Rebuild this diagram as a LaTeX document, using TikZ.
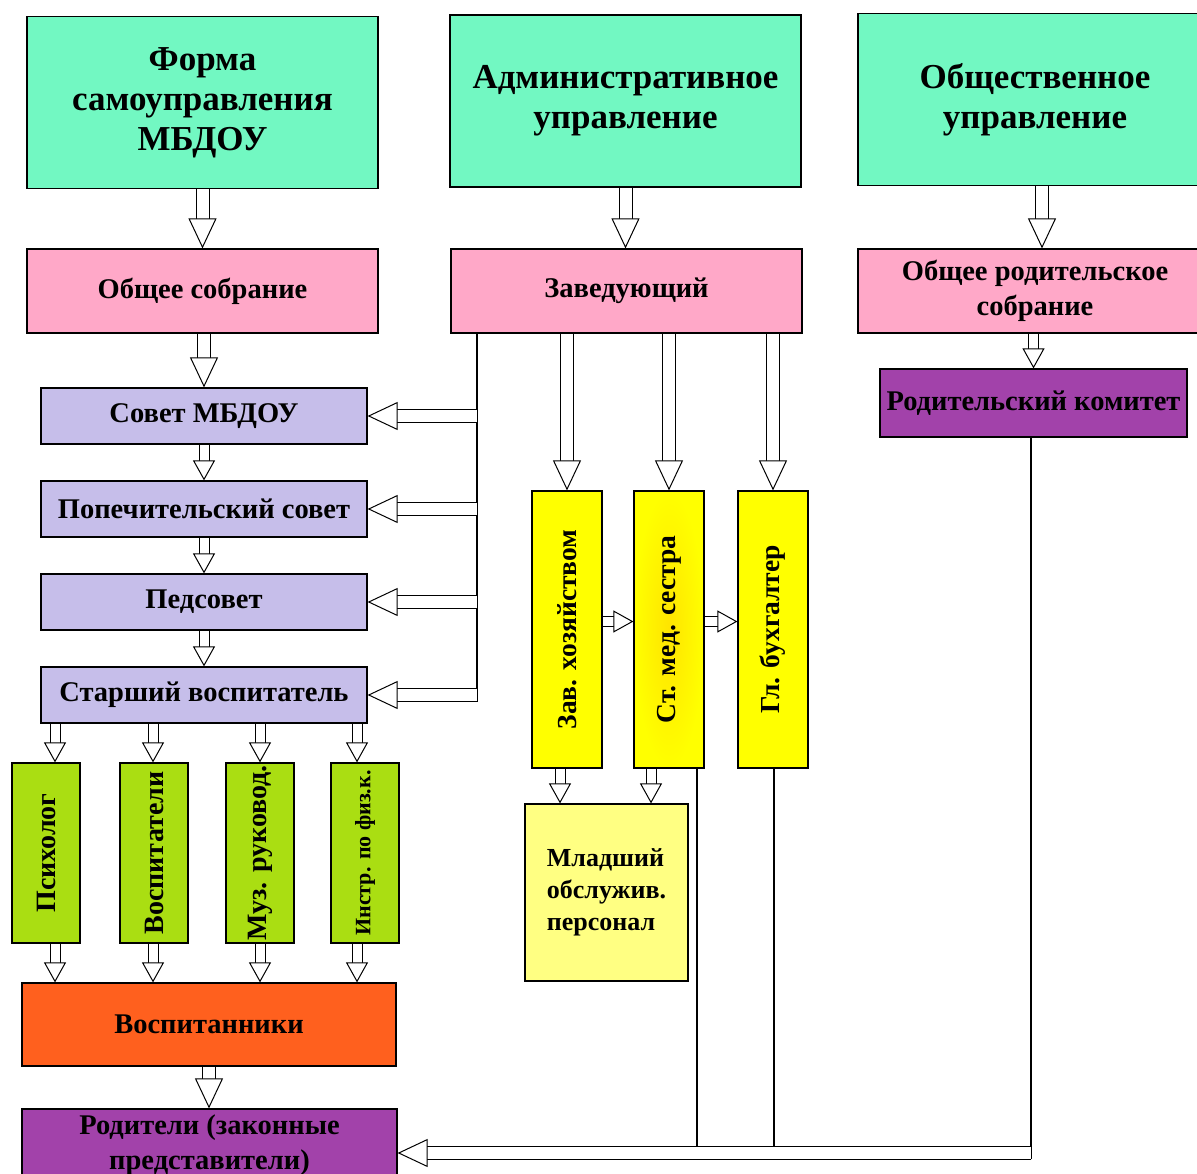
\documentclass[tikz,border=0pt]{standalone}
\usepackage{fontspec}
\setmainfont{Liberation Serif}
\usepackage{graphicx}
\usepackage{xcolor}
\usepackage{tikz}
\usetikzlibrary{arrows.meta}
\definecolor{mint}{RGB}{114,248,194}
\definecolor{rose}{RGB}{255,168,200}
\definecolor{lilac}{RGB}{198,190,234}
\definecolor{plum}{RGB}{162,66,170}
\definecolor{lemon}{RGB}{255,255,0}
\definecolor{amber}{RGB}{255,228,0}
\definecolor{cream}{RGB}{255,255,130}
\definecolor{lime}{RGB}{170,222,18}
\definecolor{tangerine}{RGB}{255,96,30}
\tikzstyle{box}=[draw=black, line width=1.2pt, shape=rectangle, inner sep=0pt, align=center, font=\bfseries\fontsize{28.5}{35}\selectfont]
\tikzstyle{head box}=[box, fill=mint, minimum width=351, minimum height=172, font=\bfseries\fontsize{35}{40}\selectfont]
\tikzstyle{pink box}=[box, fill=rose, minimum width=351, minimum height=84]
\tikzstyle{lilac box}=[box, fill=lilac, minimum width=326, minimum height=56]
\tikzstyle{plum box}=[box, fill=plum]
\tikzstyle{yellow box}=[box, fill=lemon, minimum width=70, minimum height=277, font=\bfseries\fontsize{27.5}{30}\selectfont]
\tikzstyle{green box}=[box, fill=lime, minimum width=68, minimum height=180, font=\bfseries\fontsize{28}{30}\selectfont]
\tikzstyle{big arrow}=[draw=black, line width=1pt, double=white, double distance=12pt, -{Triangle[length=30pt, width=28pt, fill=white, line width=1pt]}]
\tikzstyle{small arrow}=[draw=black, line width=1pt, double=white, double distance=9pt, -{Triangle[length=20pt, width=22pt, fill=white, line width=1pt]}]
\tikzstyle{bus}=[draw=black, line width=1.2pt]
\pgfdeclarelayer{nodelayer}
\pgfdeclarelayer{edgelayer}
\pgfsetlayers{edgelayer,nodelayer,main}

\begin{document}
\begin{tikzpicture}[x=1pt, y=-1pt]
	\useasboundingbox (0, 0) rectangle (1197, 1174);
	\begin{pgfonlayer}{nodelayer}
		\node [style=head box] (0) at (202.5, 102.5) {Форма\\самоуправления\\МБДОУ};
		\node [style=head box] (1) at (625.5, 101) {Административное\\управление};
		\node [style=head box, minimum width=354] (2) at (1035, 99.5) {Общественное\\управление};
		\node [style=pink box] (3) at (202.5, 291) {Общее собрание};
		\node [style=pink box] (4) at (626.5, 291) {Заведующий};
		\node [style=pink box, minimum width=354] (5) at (1035, 291) {Общее родительское\\собрание};
		\node [style=lilac box] (6) at (204, 416) {Совет МБДОУ};
		\node [style=lilac box] (7) at (204, 509) {Попечительский совет};
		\node [style=lilac box] (8) at (204, 602) {Педсовет};
		\node [style=lilac box] (9) at (204, 695) {Старший воспитатель};
		\node [style=plum box, minimum width=307, minimum height=68] (10) at (1033.5, 403) {Родительский комитет};
		\node [style=yellow box] (11) at (567, 629.5) {\rotatebox{90}{Зав. хозяйством}};
		\node [style=yellow box, inner color=amber, outer color=lemon] (12) at (669, 629.5) {\rotatebox{90}{Ст. мед. сестра}};
		\node [style=yellow box] (13) at (773, 629.5) {\rotatebox{90}{Гл. бухгалтер}};
		\node [style=box, fill=cream, minimum width=163, minimum height=177, align=left, font=\bfseries\fontsize{26}{32}\selectfont] (14) at (606.5, 892.5) {Младший\\обслужив.\\персонал};
		\node [style=green box] (15) at (46, 853) {\rotatebox{90}{Психолог}};
		\node [style=green box] (16) at (154, 853) {\rotatebox{90}{Воспитатели}};
		\node [style=green box] (17) at (260, 853) {\rotatebox{90}{Муз. руковод.}};
		\node [style=green box, font=\bfseries\fontsize{22}{26}\selectfont] (18) at (365, 853) {\rotatebox{90}{Инстр. по физ.к.}};
		\node [style=box, fill=tangerine, minimum width=374, minimum height=83] (19) at (209, 1024.5) {Воспитанники};
		\node [style=plum box, minimum width=375, minimum height=72] (20) at (209.5, 1145) {Родители (законные\\представители)};
		\coordinate (v0) at (477, 702);
		\coordinate (a1) at (477, 416);
		\coordinate (a2) at (477, 509);
		\coordinate (a3) at (477, 602);
		\coordinate (a4) at (477, 695);
		\coordinate (b0) at (1031, 1153);
		\coordinate (b1) at (697, 1147);
		\coordinate (b2) at (774, 1147);
		\coordinate (b3) at (1031, 1159);
		\coordinate (p1) at (55, 0);
		\coordinate (p2) at (153, 0);
		\coordinate (p3) at (260, 0);
		\coordinate (p4) at (357, 0);
		\coordinate (m1) at (560, 0);
		\coordinate (m2) at (651, 0);
		\coordinate (g) at (1042, 0);
	\end{pgfonlayer}
	\begin{pgfonlayer}{edgelayer}
		\draw [style=big arrow] (0) to (3);
		\draw [style=big arrow] (3.south -| 6) to (6);
		\draw [style=small arrow] (6) to (7);
		\draw [style=small arrow] (7) to (8);
		\draw [style=small arrow] (8) to (9);
		\draw [style=small arrow] (9.south -| p1) to (15.north -| p1);
		\draw [style=small arrow] (9.south -| p2) to (16.north -| p2);
		\draw [style=small arrow] (9.south -| p3) to (17.north -| p3);
		\draw [style=small arrow] (9.south -| p4) to (18.north -| p4);
		\draw [style=small arrow] (15.south -| p1) to (19.north -| p1);
		\draw [style=small arrow] (16.south -| p2) to (19.north -| p2);
		\draw [style=small arrow] (17.south -| p3) to (19.north -| p3);
		\draw [style=small arrow] (18.south -| p4) to (19.north -| p4);
		\draw [style=big arrow] (19.south) to (19.south |- 20.north);
		\draw [style=big arrow] (1.south) to (1.south |- 4.north);
		\draw [style=big arrow] (2.south -| g) to (5.north -| g);
		\draw [style=small arrow] (5.south -| 10) to (10);
		\draw [style=big arrow] (4.south -| 11) to (11);
		\draw [style=big arrow] (4.south -| 12) to (12);
		\draw [style=big arrow] (4.south -| 13) to (13);
		\draw [style=small arrow] ([yshift=8pt]11.east) to ([yshift=8pt]12.west);
		\draw [style=small arrow] ([yshift=8pt]12.east) to ([yshift=8pt]13.west);
		\draw [style=small arrow] (11.south -| m1) to (14.north -| m1);
		\draw [style=small arrow] (12.south -| m2) to (14.north -| m2);
		\draw [style=bus] (4.south -| v0) to (v0);
		\draw [style=big arrow] (a1) to (6);
		\draw [style=big arrow] (a2) to (7);
		\draw [style=big arrow] (a3) to (8);
		\draw [style=big arrow] (a4) to (9);
		\draw [style=bus] (12.south -| b1) to (b1);
		\draw [style=bus] (13.south -| b2) to (b2);
		\draw [style=bus] (10.south -| b3) to (b3);
		\draw [style=big arrow] (b0) to (20.east |- b0);
	\end{pgfonlayer}
\end{tikzpicture}
\end{document}
